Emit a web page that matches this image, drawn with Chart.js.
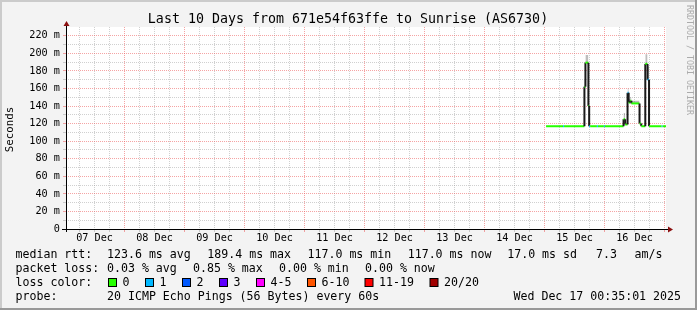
<!DOCTYPE html>
<html>
<head>
<meta charset="utf-8">
<script src="https://cdn.jsdelivr.net/npm/chart.js@4"></script>
<style>
  html, body { margin: 0; padding: 0; background: #f3f3f3; }
  #wrap { width: 697px; height: 310px; }
</style>
</head>
<body>
<div id="wrap"><canvas id="smokeChart" width="697" height="310"></canvas></div>
<script>
// hours since 07 Dec 00:00, each value holds until the next time
const hours = [192.6, 199.4, 199.8, 207.95, 208.35, 209.55, 209.85, 210.25, 212.95, 213.35, 215.75, 216.15,
    223.6, 224.25, 225.2, 225.65, 226.25, 226.75, 230.0, 230.7, 232.3, 233.2, 233.8, 238.85, 239.25, 240.58];
const medianRtt = [117, 117, 117, 162, 189.4, 140, 117, 117, 117, 117, 117, 117,
    125, 119, 155, 144, 146, 143, 120, 117, 188, 170, 117, 117, 117];
const smokeMax = [117, 117, 117, 170, 198, 147, 117, 117, 117, 117, 117, 117,
    132, 119, 160, 148, 150, 146, 120, 117, 199, 185, 117, 117, 117];
const lostPings = [0, 1, 0, 0, 0, 0, 1, 0, 1, 0, 1, 0,
    0, 0, 1, 0, 0, 0, 0, 0, 0, 1, 0, 1, 0];

const startHour = 0.5836;   // 07 Dec 00:35:01
const endHour = 240.5836;   // 17 Dec 00:35:01
const dayLabels = ['07 Dec', '08 Dec', '09 Dec', '10 Dec', '11 Dec', '12 Dec', '13 Dec', '14 Dec', '15 Dec', '16 Dec'];
const yMax = 230;

const lossLabels = ['0', '1', '2', '3', '4-5', '6-10', '11-19', '20/20'];
const lossColors = ['#26ff00', '#00b8ff', '#0059ff', '#5e00ff', '#ff00ff', '#ff5500', '#ff0000', '#a10000'];

const rttStats = ['123.6 ms avg', '189.4 ms max', '117.0 ms min', '117.0 ms now', '17.0 ms sd', '7.3', 'am/s'];
const lossStats = ['0.03 % avg', '0.85 % max', '0.00 % min', '0.00 % now'];

const MONO = '"DejaVu Sans Mono", monospace';
const majorGrid = 'rgba(236, 90, 90, 0.55)';
const minorGrid = 'rgba(150, 150, 150, 0.45)';

function stepPoints(vals) {
    const pts = [];
    vals.forEach(function (v, i) {
        pts.push({ x: hours[i], y: v });
        pts.push({ x: hours[i + 1], y: v });
    });
    return pts;
}

function lossColor(n) {
    if (n <= 3) return lossColors[n];
    if (n <= 5) return lossColors[4];
    if (n <= 10) return lossColors[5];
    if (n <= 19) return lossColors[6];
    return lossColors[7];
}

const gridHours = [];
for (let h = 6; h <= 240; h += 6) gridHours.push(h);

const rrdFrame = {
    id: 'rrdFrame',
    beforeDraw(chart) {
        const ctx = chart.ctx;
        const a = chart.chartArea;
        ctx.save();
        ctx.fillStyle = '#f3f3f3';
        ctx.fillRect(0, 0, 697, 310);
        // shaded frame
        ctx.fillStyle = '#cbcbcb';
        ctx.fillRect(0, 0, 697, 2);
        ctx.fillRect(0, 0, 2, 310);
        ctx.fillStyle = '#999999';
        ctx.fillRect(0, 308, 697, 2);
        ctx.fillRect(695, 0, 2, 310);
        ctx.fillStyle = '#ffffff';
        ctx.fillRect(a.left, a.top, a.right - a.left, a.bottom - a.top);
        ctx.restore();
    },
    afterDraw(chart) {
        const ctx = chart.ctx;
        const a = chart.chartArea;
        ctx.save();

        // axes with arrows
        ctx.strokeStyle = '#000';
        ctx.lineWidth = 1;
        ctx.beginPath();
        ctx.moveTo(a.left - 4, a.bottom + 0.5);
        ctx.lineTo(a.right + 2, a.bottom + 0.5);
        ctx.moveTo(a.left + 0.5, a.bottom + 3);
        ctx.lineTo(a.left + 0.5, a.top - 1);
        ctx.stroke();
        ctx.fillStyle = '#8b1010';
        ctx.beginPath();
        ctx.moveTo(a.left - 2.5, a.top - 1);
        ctx.lineTo(a.left + 3.5, a.top - 1);
        ctx.lineTo(a.left + 0.5, a.top - 6);
        ctx.closePath();
        ctx.fill();
        ctx.beginPath();
        ctx.moveTo(a.right + 2, a.bottom - 2.5);
        ctx.lineTo(a.right + 2, a.bottom + 3.5);
        ctx.lineTo(a.right + 7, a.bottom + 0.5);
        ctx.closePath();
        ctx.fill();

        // title
        ctx.fillStyle = '#000';
        ctx.textBaseline = 'middle';
        ctx.textAlign = 'center';
        ctx.font = '13.3px ' + MONO;
        ctx.fillText('Last 10 Days from 671e54f63ffe to Sunrise (AS6730)', 348, 19.5);

        // unit label
        ctx.save();
        ctx.translate(10.5, 129.5);
        ctx.rotate(-Math.PI / 2);
        ctx.font = '10.8px ' + MONO;
        ctx.fillText('Seconds', 0, 0);
        ctx.restore();

        // watermark
        ctx.save();
        ctx.translate(689, 60);
        ctx.rotate(Math.PI / 2);
        ctx.font = '8.3px ' + MONO;
        ctx.fillStyle = '#ababab';
        ctx.fillText('RRDTOOL / TOBI OETIKER', 0, 0);
        ctx.restore();

        // legend
        ctx.textAlign = 'left';
        ctx.font = '11.6px ' + MONO;
        const rttX = [107, 207.3, 307.5, 407.7, 507.2, 596, 634.5];
        ctx.fillText('median rtt:', 15.5, 254.5);
        rttStats.forEach((s, i) => ctx.fillText(s, rttX[i], 254.5));

        const lossX = [107, 193, 279, 365];
        ctx.fillText('packet loss:', 15.5, 268.5);
        lossStats.forEach((s, i) => ctx.fillText(s, lossX[i], 268.5));

        ctx.fillText('loss color:', 15.5, 282.5);
        const boxX = [108.5, 145.5, 182.5, 219.5, 256.5, 307.5, 365, 430];
        const textX = [122.5, 159.5, 196.5, 233.5, 270.5, 321.5, 379, 444];
        lossLabels.forEach(function (l, i) {
            ctx.fillStyle = lossColors[i];
            ctx.fillRect(boxX[i], 278.5, 8, 8);
            ctx.strokeStyle = '#000';
            ctx.strokeRect(boxX[i], 278.5, 8, 8);
            ctx.fillStyle = '#000';
            ctx.fillText(l, textX[i], 282.5);
        });

        ctx.fillText('probe:', 15.5, 296.5);
        ctx.fillText('20 ICMP Echo Pings (56 Bytes) every 60s', 107, 296.5);
        ctx.textAlign = 'right';
        ctx.fillText('Wed Dec 17 00:35:01 2025', 681, 296.5);
        ctx.restore();
    }
};

const chart = new Chart(document.getElementById('smokeChart').getContext('2d'), {
    type: 'line',
    data: {
        datasets: [{
            label: 'smoke',
            data: stepPoints(smokeMax),
            borderWidth: 0,
            pointRadius: 0,
            backgroundColor: 'rgba(90, 90, 90, 0.4)',
            fill: 1,
            tension: 0,
            order: 1
        }, {
            label: 'median rtt',
            data: stepPoints(medianRtt),
            borderWidth: 2,
            pointRadius: 0,
            tension: 0,
            fill: false,
            borderCapStyle: 'butt',
            order: 0,
            segment: {
                // odd segments are the vertical jumps between steps
                borderColor: ctx => ctx.p0DataIndex % 2 === 1 ? '#1a1a1a' : lossColor(lostPings[ctx.p0DataIndex / 2])
            }
        }]
    },
    options: {
        responsive: false,
        animation: false,
        devicePixelRatio: 1,
        events: [],
        layout: { padding: { left: 0, right: 31, top: 27, bottom: 0 } },
        plugins: {
            legend: { display: false },
            tooltip: { enabled: false }
        },
        scales: {
            x: {
                type: 'linear',
                min: startHour,
                max: endHour,
                afterBuildTicks: s => { s.ticks = gridHours.map(v => ({ value: v })); },
                afterFit: s => { s.height = 81; },
                grid: {
                    color: c => c.tick && c.tick.value % 24 === 0 ? majorGrid : minorGrid,
                    tickLength: 3,
                    lineWidth: 1
                },
                border: { display: false, dash: [1, 1] },
                ticks: {
                    autoSkip: false,
                    maxRotation: 0,
                    padding: 0,
                    color: '#000',
                    font: { family: MONO, size: 10.2 },
                    callback: v => v % 24 === 12 ? dayLabels[(v - 12) / 24] : ''
                }
            },
            y: {
                min: 0,
                max: yMax,
                afterFit: s => { s.width = 66; },
                grid: {
                    color: c => {
                        const v = c.tick ? c.tick.value : 0;
                        if (v === 0 || v === yMax) return 'rgba(0,0,0,0)';
                        return v % 20 === 0 ? majorGrid : minorGrid;
                    },
                    tickLength: 3,
                    lineWidth: 1
                },
                border: { display: false, dash: [1, 1] },
                ticks: {
                    stepSize: 10,
                    autoSkip: false,
                    padding: 3,
                    color: '#000',
                    font: { family: MONO, size: 10.2 },
                    callback: v => v === 0 ? '0' : (v % 20 === 0 && v < yMax ? v + ' m' : '')
                }
            }
        }
    },
    plugins: [rrdFrame]
});
</script>
</body>
</html>
